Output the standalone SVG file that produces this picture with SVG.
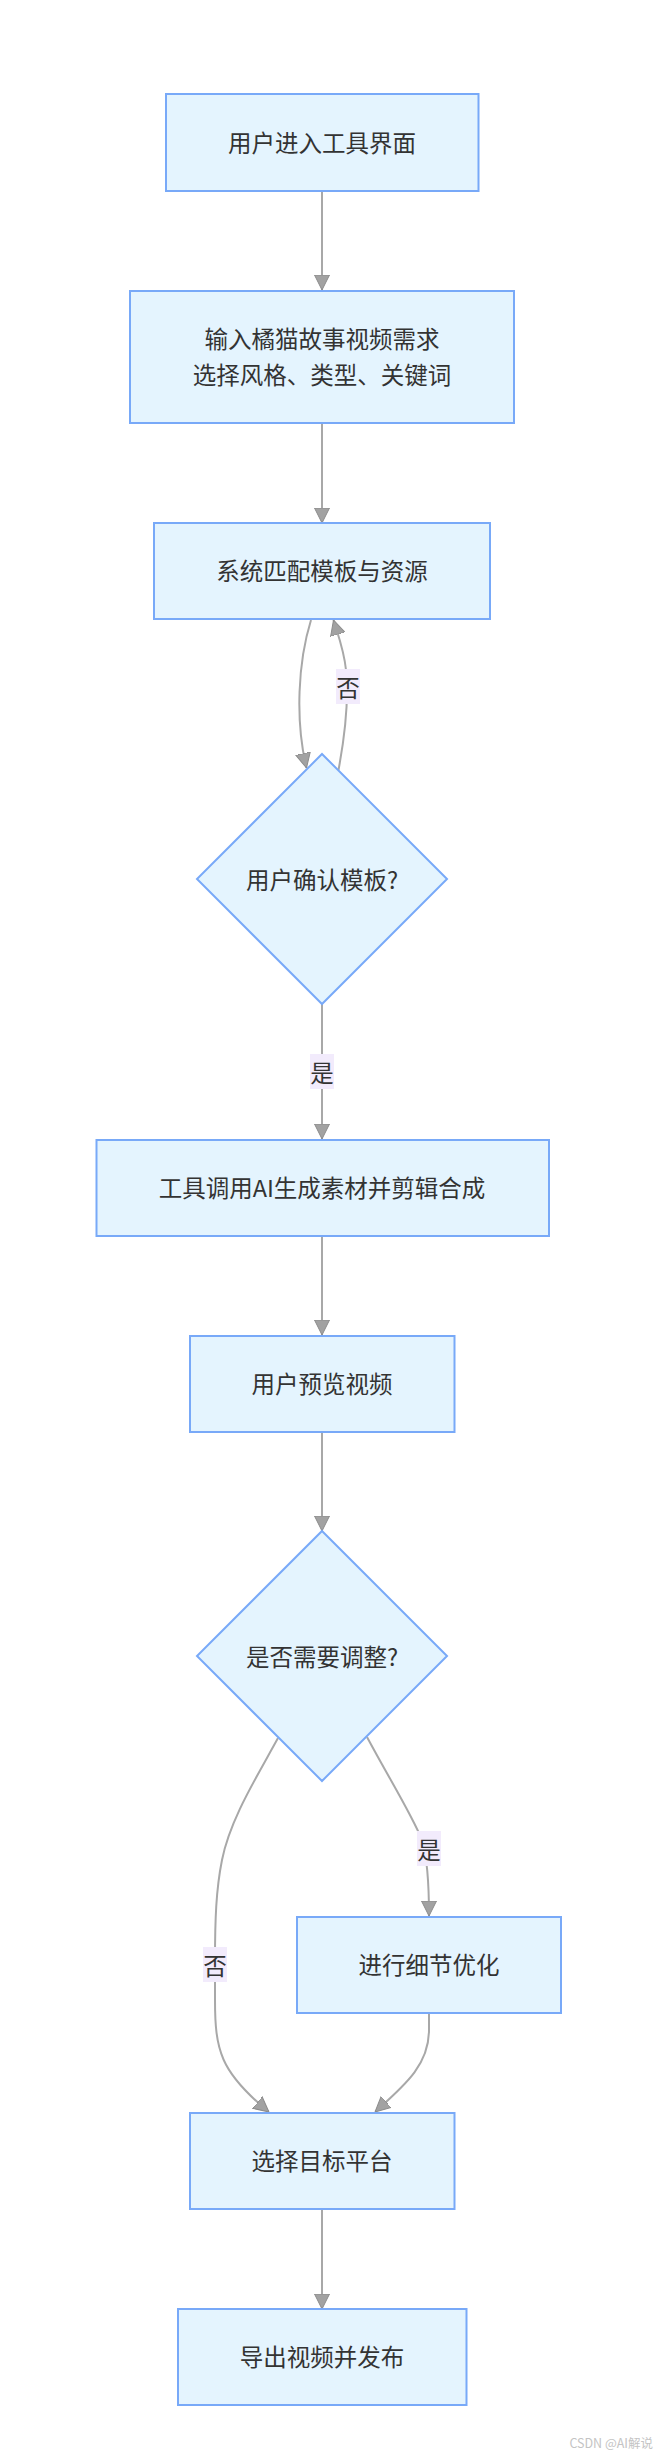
<svg xmlns="http://www.w3.org/2000/svg" width="657" height="2457" viewBox="0 0 657 2457">
<style>
.node{fill:#e4f4fe;stroke:#78a9f8;stroke-width:2}
.t{font-family:"Noto Sans CJK SC","Noto Sans",sans-serif;font-size:23.5px;fill:#333;text-anchor:middle;dominant-baseline:central}
.e{fill:none;stroke:#a8a8a8;stroke-width:2}
.lb{fill:#f2ebfc}
.wm{font-family:"Noto Sans CJK SC","Liberation Sans",sans-serif;font-size:12.5px;fill:#c4c4c4;text-anchor:end}
</style>
<defs>
<marker id="arr" viewBox="0 0 15 16" refX="15" refY="8" markerUnits="userSpaceOnUse" markerWidth="15" markerHeight="16" orient="auto">
<path d="M0,0.5 L15,8 L0,15.5 z" fill="#a2a2a2" stroke="#8c8c8c" stroke-width="1"/>
</marker>
</defs>
<rect width="657" height="2457" fill="#fff"/>
<g id="connectors">
<path class="e" d="M322,192 L322,290" marker-end="url(#arr)"/>
<path class="e" d="M322,423 L322,523" marker-end="url(#arr)"/>
<path class="e" d="M311,620 C298,662 295,720 306.5,768" marker-end="url(#arr)"/>
<path class="e" d="M338.5,770 C345,735 349,700 346,670 C344,650 338,635 333.5,620" marker-end="url(#arr)"/>
<path class="e" d="M322,1004 L322,1139" marker-end="url(#arr)"/>
<path class="e" d="M322,1236 L322,1335" marker-end="url(#arr)"/>
<path class="e" d="M322,1432 L322,1531" marker-end="url(#arr)"/>
<path class="e" d="M367,1737 C390,1780 412,1815 422,1840 C428,1860 429,1890 429,1916" marker-end="url(#arr)"/>
<path class="e" d="M278,1738 C255,1780 230,1820 222,1860 C216,1890 215,1920 215,1960 L215,2000 C215,2050 220,2072 269,2112" marker-end="url(#arr)"/>
<path class="e" d="M429,2013 L429,2030 C429,2065 405,2085 375,2112" marker-end="url(#arr)"/>
<path class="e" d="M322,2209 L322,2309" marker-end="url(#arr)"/>
<g id="label-no1"><rect class="lb" x="336" y="669" width="24" height="35"/><text class="t" x="348" y="686.5">否</text></g>
<g id="label-yes1"><rect class="lb" x="310" y="1054" width="24" height="35"/><text class="t" x="322" y="1071.5">是</text></g>
<g id="label-yes2"><rect class="lb" x="417" y="1831" width="24" height="35"/><text class="t" x="429" y="1848.5">是</text></g>
<g id="label-no2"><rect class="lb" x="203" y="1947" width="24" height="35"/><text class="t" x="215" y="1964.5">否</text></g>
</g>
<g id="n1"><rect class="node" x="166" y="94" width="312.5" height="97"/><text class="t" x="322" y="142">用户进入工具界面</text></g>
<g id="n2"><rect class="node" x="130" y="291" width="384" height="132"/><text class="t" x="322" y="338">输入橘猫故事视频需求</text><text class="t" x="322" y="374">选择风格、类型、关键词</text></g>
<g id="n3"><rect class="node" x="154" y="523" width="336" height="96"/><text class="t" x="322" y="570">系统匹配模板与资源</text></g>
<g id="d1"><polygon class="node" points="322,754 447,879 322,1004 197,879"/><text class="t" x="322" y="879">用户确认模板?</text></g>
<g id="n4"><rect class="node" x="96.5" y="1140" width="452.5" height="96"/><text class="t" x="322" y="1187">工具调用AI生成素材并剪辑合成</text></g>
<g id="n5"><rect class="node" x="190" y="1336" width="264.5" height="96"/><text class="t" x="322" y="1383">用户预览视频</text></g>
<g id="d2"><polygon class="node" points="322,1531 447,1656 322,1781 197,1656"/><text class="t" x="322" y="1656">是否需要调整?</text></g>
<g id="n6"><rect class="node" x="297" y="1917" width="264" height="96"/><text class="t" x="429" y="1964">进行细节优化</text></g>
<g id="n7"><rect class="node" x="190" y="2113" width="264.5" height="96"/><text class="t" x="322" y="2160">选择目标平台</text></g>
<g id="n8"><rect class="node" x="178" y="2309" width="288.5" height="96"/><text class="t" x="322" y="2356">导出视频并发布</text></g>
<text class="wm" x="653" y="2448">CSDN @AI解说</text>
</svg>
